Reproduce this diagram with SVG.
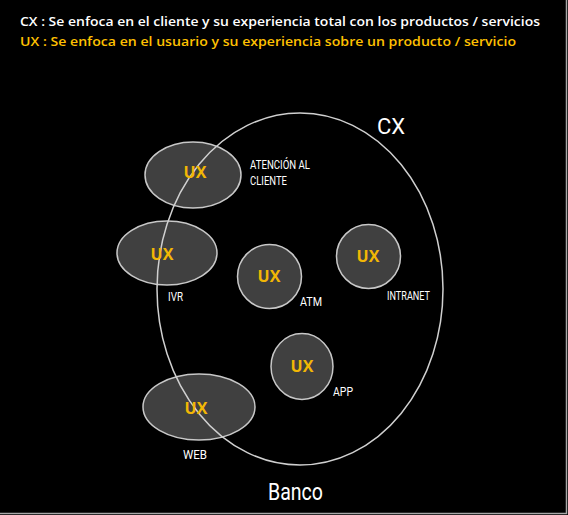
<svg xmlns="http://www.w3.org/2000/svg" width="568" height="515" viewBox="0 0 568 515">
<style>
.bub{fill:#404040;stroke:#c8c8c8;stroke-width:1.5}
.ux{font-family:"Open Sans","Liberation Sans",sans-serif;font-weight:bold;font-size:16px;fill:#F2B705;text-anchor:middle}
.lbl{font-family:"Roboto","Liberation Sans",sans-serif;font-size:12.5px;fill:#ffffff}
.hdr{font-family:"Open Sans","Liberation Sans",sans-serif;font-weight:600;font-size:13px}
</style>
<rect x="0" y="0" width="568" height="515" fill="#000"/>
<rect x="-1" y="-1" width="567.5" height="514.5" fill="none" stroke="#a8a8a8" stroke-width="1.5"/>
<text class="hdr" x="20" y="26" fill="#ffffff" textLength="520" lengthAdjust="spacingAndGlyphs">CX : Se enfoca en el cliente y su experiencia total con los productos / servicios</text>
<text class="hdr" x="20" y="46" fill="#FFC000" textLength="496" lengthAdjust="spacingAndGlyphs">UX :  Se enfoca en el usuario y su experiencia sobre un producto / servicio</text>
<g id="atencion">
<ellipse class="bub" cx="193" cy="175" rx="48" ry="33"/>
</g>
<g id="ivr">
<ellipse class="bub" cx="167" cy="253" rx="50" ry="32"/>
</g>
<g id="web">
<ellipse class="bub" cx="199" cy="407" rx="56" ry="33"/>
</g>
<g id="banco">
<ellipse cx="300" cy="289" rx="143" ry="176" fill="none" stroke="#d0d0d0" stroke-width="1.5"/>
<text x="391" y="134" font-family="Roboto,'Liberation Sans',sans-serif" font-size="22" fill="#fff" text-anchor="middle">CX</text>
<text x="268" y="500" font-family="Roboto,'Liberation Sans',sans-serif" font-size="23" fill="#fff" textLength="55" lengthAdjust="spacingAndGlyphs">Banco</text>
</g>
<g id="atencion-text">
<text class="ux" x="195" y="178">UX</text>
<text class="lbl" x="250" y="169" textLength="60" lengthAdjust="spacingAndGlyphs">ATENCIÓN AL</text>
<text class="lbl" x="250" y="185" textLength="37" lengthAdjust="spacingAndGlyphs">CLIENTE</text>
</g>
<g id="ivr-text">
<text class="ux" x="162" y="260">UX</text>
<text class="lbl" x="168" y="301" textLength="15" lengthAdjust="spacingAndGlyphs">IVR</text>
</g>
<g id="atm">
<circle class="bub" cx="269.5" cy="276.5" r="32"/>
<text class="ux" x="269" y="282">UX</text>
<text class="lbl" x="300" y="306" textLength="22" lengthAdjust="spacingAndGlyphs">ATM</text>
</g>
<g id="intranet">
<circle class="bub" cx="368.5" cy="256.5" r="32"/>
<text class="ux" x="368" y="262">UX</text>
<text class="lbl" x="387" y="300" textLength="43" lengthAdjust="spacingAndGlyphs">INTRANET</text>
</g>
<g id="app">
<ellipse class="bub" cx="302" cy="366.5" rx="31" ry="33"/>
<text class="ux" x="302" y="372">UX</text>
<text class="lbl" x="333" y="396" textLength="20" lengthAdjust="spacingAndGlyphs">APP</text>
</g>
<g id="web-text">
<text class="ux" x="196" y="414">UX</text>
<text class="lbl" x="183" y="459" textLength="24" lengthAdjust="spacingAndGlyphs">WEB</text>
</g>
</svg>
